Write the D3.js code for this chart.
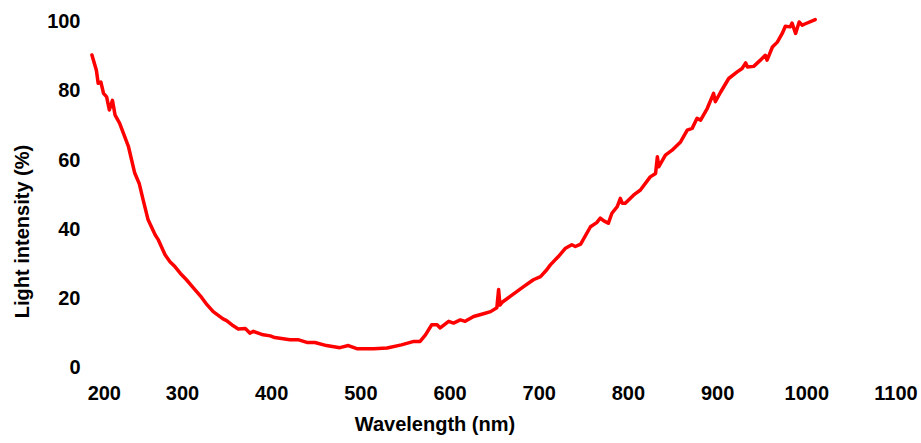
<!DOCTYPE html>
<html>
<head>
<meta charset="utf-8">
<script src="https://cdn.jsdelivr.net/npm/d3@7/dist/d3.min.js"></script>
<style>
  html, body { margin: 0; padding: 0; background: #fff; }
  svg { display: block; }
  text { font-family: "Liberation Sans", Arial, Helvetica, sans-serif; font-weight: bold; fill: #000; }
</style>
</head>
<body>
<svg id="chart" width="921" height="443"></svg>
<script>
// ---- data ----
const wavelength = [
  199, 204, 206, 209, 212, 215.5, 218.5, 222, 225, 230, 240, 247, 252, 256.5, 262, 270, 273.5, 281, 286.5, 292,
  298, 305, 313, 322, 328, 335, 346, 350, 357.5, 363, 371, 376, 380, 391, 399, 404, 421, 430, 440, 449,
  462, 477, 486.5, 496, 515, 530, 546, 560, 567, 573, 580, 586, 589.5, 599, 604.5, 612, 617.5, 627, 638, 646,
  653, 655, 656.5, 659, 668, 683, 694, 702, 709, 713, 722, 730, 737, 741, 747, 758, 765, 769, 773, 778,
  782, 788, 791.5, 793.5, 797, 806.5, 814, 825, 831, 833, 834.5, 842, 849.5, 859, 866.5, 872, 877.5, 881.5, 889, 896,
  898, 904, 913, 922.5, 928, 932, 934, 941, 948.5, 954, 956, 962, 967.5, 973, 976.5, 982, 984, 988, 992, 995.5,
  999, 1010
];
const intensity = [
  90, 85.6, 81.8, 82.2, 78.9, 77.9, 74.1, 76.9, 72.6, 70.3, 63.5, 55.9, 52.9, 48.1, 42.4, 38.0, 36.6, 32.3, 30.3, 28.9,
  27.0, 25.1, 22.7, 20.0, 17.9, 15.9, 13.8, 13.3, 11.8, 10.9, 11.0, 9.7, 10.2, 9.2, 8.9, 8.4, 7.8, 7.8, 7.0, 7.0,
  6.1, 5.5, 6.1, 5.2, 5.2, 5.4, 6.3, 7.3, 7.3, 9.2, 12.1, 12.1, 11.2, 13.1, 12.6, 13.5, 13.1, 14.5, 15.3, 15.9,
  17.0, 22.3, 17.8, 18.6, 20.3, 23.1, 25.1, 26.0, 28.0, 29.4, 31.8, 34.2, 35.2, 34.7, 35.4, 40.4, 41.6, 42.9, 42.1, 41.4,
  44.3, 46.2, 48.6, 47.2, 47.2, 49.6, 51.0, 54.8, 55.8, 60.6, 57.7, 61.1, 62.5, 64.9, 68.3, 68.8, 71.7, 71.2, 74.6, 78.9,
  76.5, 79.3, 83.2, 85.1, 86.1, 87.7, 86.5, 86.7, 88.5, 89.9, 88.5, 92.3, 93.7, 96.2, 98.3, 98.1, 99.2, 96.2, 99.5, 98.6,
  99.0, 100.2
];
const xTicks = [200, 300, 400, 500, 600, 700, 800, 900, 1000, 1100];
const yTicks = [0, 20, 40, 60, 80, 100];
const xTitle = "Wavelength (nm)";
const yTitle = "Light intensity (%)";

// ---- drawing ----
const svg = d3.select("#chart");
const x = d3.scaleLinear().domain([300, 1100]).range([182, 895.5]);
const y = d3.scaleLinear().domain([0, 100]).range([366.7, 20.3]);

// x axis labels (no line, no ticks)
const xAxis = d3.axisBottom(x).tickValues(xTicks).tickSize(0).tickPadding(0).tickFormat(d3.format("d"));
const gx = svg.append("g").attr("transform", "translate(0,385)").call(xAxis);
gx.select(".domain").remove();
gx.selectAll("text")
  .attr("font-size", 20).attr("font-family", null).attr("dy", "0.75em")
  .attr("dx", (d, i) => i === 0 ? 11 : 0);

// y axis labels
const yAxis = d3.axisLeft(y).tickValues(yTicks).tickSize(0).tickPadding(0).tickFormat(d3.format("d"));
const gy = svg.append("g").attr("transform", "translate(80.5,0)").call(yAxis);
gy.select(".domain").remove();
gy.selectAll("text").attr("font-size", 20).attr("font-family", null).attr("dy", "0.36em");

// titles
svg.append("text")
  .attr("x", 435).attr("y", 431)
  .attr("text-anchor", "middle").attr("font-size", 20)
  .text(xTitle);
svg.append("text")
  .attr("transform", "translate(29,231.5) rotate(-90)")
  .attr("text-anchor", "middle").attr("font-size", 20)
  .text(yTitle);

// line
const pts = wavelength.map((w, i) => [w, intensity[i]]);
const line = d3.line().x(d => x(d[0])).y(d => y(d[1]));
svg.append("path")
  .datum(pts)
  .attr("d", line)
  .attr("fill", "none")
  .attr("stroke", "#ff0000")
  .attr("stroke-width", 3.5)
  .attr("stroke-linejoin", "round")
  .attr("stroke-linecap", "round");
</script>
</body>
</html>
